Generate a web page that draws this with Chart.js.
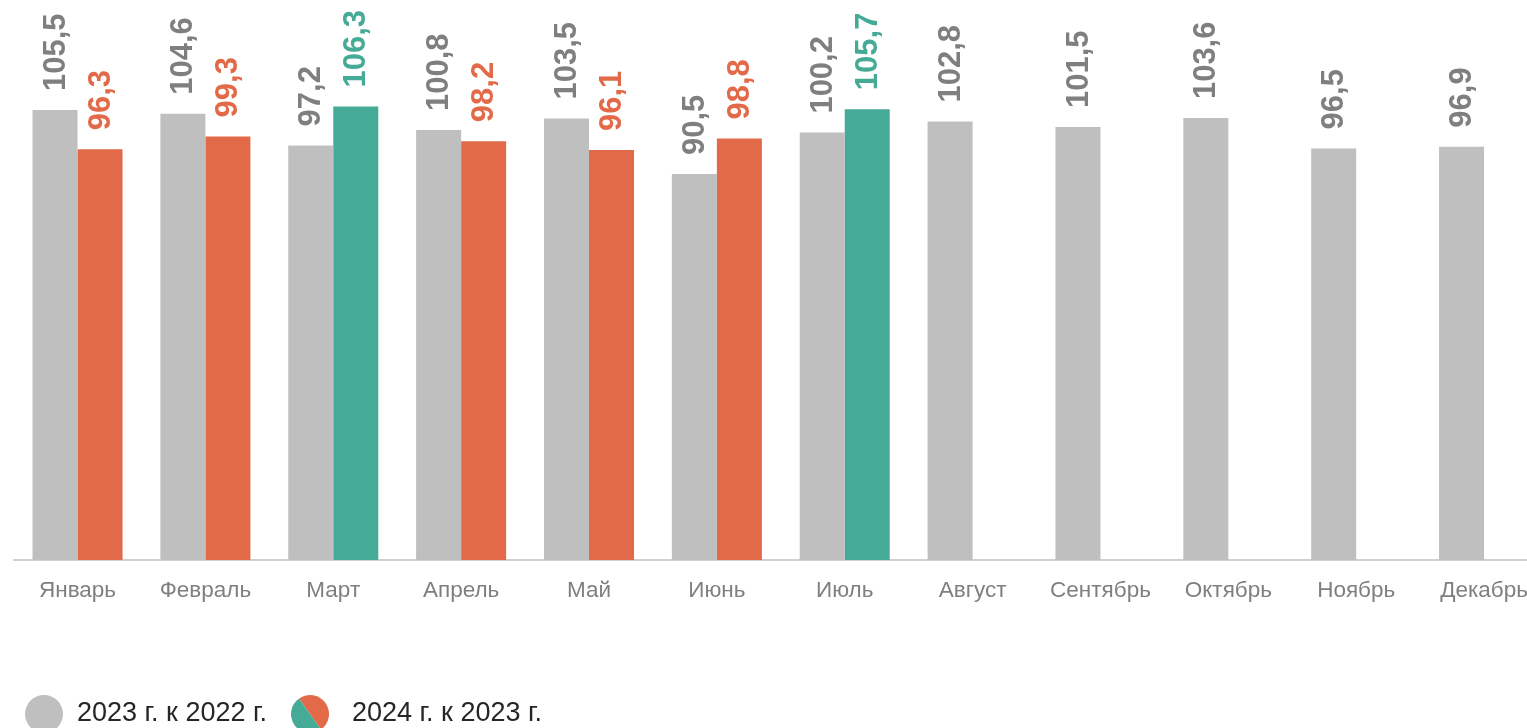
<!DOCTYPE html>
<html><head><meta charset="utf-8">
<script src="https://cdn.jsdelivr.net/npm/chart.js@4"></script>
<style>
html,body{margin:0;padding:0;overflow:hidden;background:#fff;width:1527px;height:728px}
canvas{display:block}
</style></head>
<body><canvas id="c" width="1548" height="728" style="width:1548px;height:728px"></canvas>
<script>
const months = ['Январь','Февраль','Март','Апрель','Май','Июнь','Июль','Август','Сентябрь','Октябрь','Ноябрь','Декабрь'];
const series2023 = [105.5,104.6,97.2,100.8,103.5,90.5,100.2,102.8,101.5,103.6,96.5,96.9];
const series2024 = [96.3,99.3,106.3,98.2,96.1,98.8,105.7,null,null,null,null,null];
const seriesNames = ['2023 г. к 2022 г.','2024 г. к 2023 г.'];

const GREY='#bfbfbf', GREY_TXT='#7f7f7f', ORANGE='#e26a48', TEAL='#45ab97';
const color2024 = series2024.map(v => v!=null && v>100 ? TEAL : ORANGE);

const fmt = v => v.toFixed(1).replace('.', ',');

const labelPlugin = {
  id:'valueLabels',
  afterDatasetsDraw(chart){
    const ctx = chart.ctx;
    ctx.save();
    ctx.font = 'bold 31px "Liberation Sans", Arial, sans-serif';
    ctx.textAlign='left'; ctx.textBaseline='middle';
    chart.data.datasets.forEach((ds,di)=>{
      const meta = chart.getDatasetMeta(di);
      meta.data.forEach((bar,i)=>{
        const v = ds.data[i];
        if(v==null) return;
        ctx.save();
        ctx.translate(bar.x+1, bar.y-19);
        ctx.rotate(-Math.PI/2);
        ctx.fillStyle = di===0 ? GREY_TXT : color2024[i];
        ctx.fillText(fmt(v),0,0);
        ctx.restore();
      });
    });
    ctx.restore();
  }
};

const legendPlugin = {
  id:'customLegend',
  afterDraw(chart){
    const ctx = chart.ctx;
    ctx.save();
    const cy = 714;
    ctx.fillStyle = GREY;
    ctx.beginPath(); ctx.arc(44,cy,19,0,Math.PI*2); ctx.fill();
    const cx2=310, r2=19, a=55*Math.PI/180;
    ctx.fillStyle=ORANGE;
    ctx.beginPath(); ctx.moveTo(cx2,cy); ctx.arc(cx2,cy,r2,a+Math.PI,a+2*Math.PI); ctx.closePath(); ctx.fill();
    ctx.fillStyle=TEAL;
    ctx.beginPath(); ctx.moveTo(cx2,cy); ctx.arc(cx2,cy,r2,a,a+Math.PI); ctx.closePath(); ctx.fill();
    ctx.font = '27px "Liberation Sans", Arial, sans-serif';
    ctx.fillStyle='#262626'; ctx.textAlign='left'; ctx.textBaseline='middle';
    ctx.fillText(chart.data.datasets[0].label,77,cy);
    ctx.fillText(chart.data.datasets[1].label,352,cy);
    ctx.restore();
  }
};

new Chart(document.getElementById('c'),{
  type:'bar',
  data:{
    labels:months,
    datasets:[
      {label:seriesNames[0],data:series2023,backgroundColor:GREY,categoryPercentage:0.704,barPercentage:1},
      {label:seriesNames[1],data:series2024,backgroundColor:color2024,categoryPercentage:0.704,barPercentage:1}
    ]
  },
  options:{
    responsive:false,
    animation:false,
    devicePixelRatio:1,
    layout:{padding:{left:13.6,right:0,top:5.5,bottom:107}},
    plugins:{legend:{display:false},tooltip:{enabled:false}},
    scales:{
      x:{
        grid:{display:false,drawTicks:false},
        border:{display:true,color:'#d0d0d0',width:2},
        ticks:{color:GREY_TXT,font:{family:'"Liberation Sans", Arial, sans-serif',size:22.5},padding:17,maxRotation:0,autoSkip:false}
      },
      y:{display:false,min:0,max:130}
    }
  },
  plugins:[labelPlugin,legendPlugin]
});
</script>
</body></html>
